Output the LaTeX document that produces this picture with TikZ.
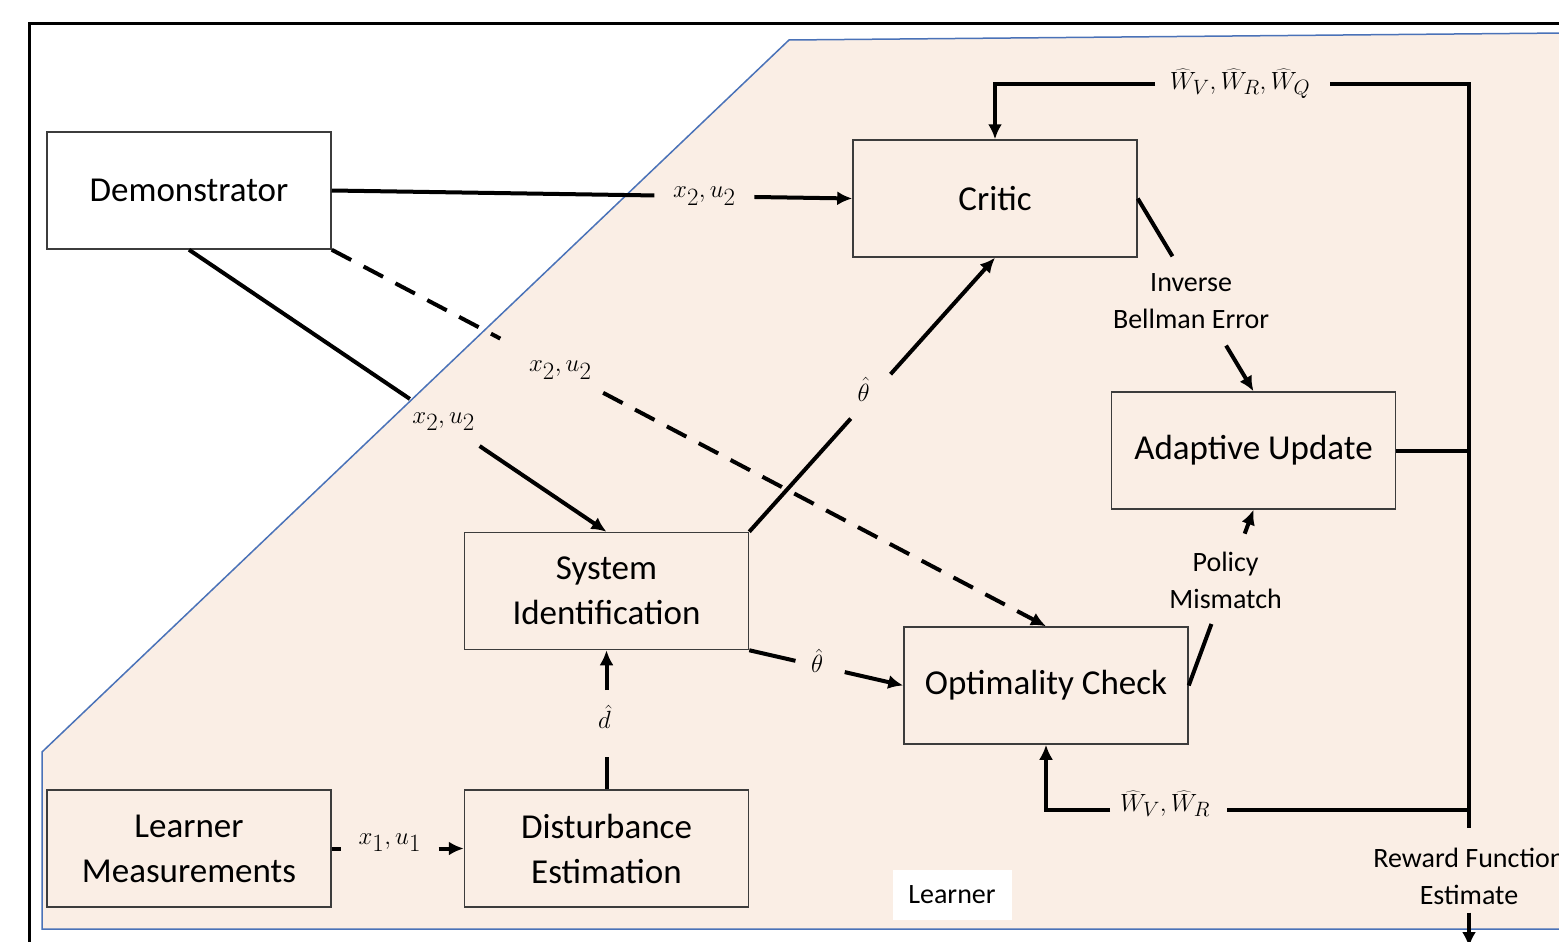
\documentclass[tikz,border=0pt]{standalone}
\usepackage{fontspec}
\setmainfont{Carlito}
\usetikzlibrary{arrows.meta}
\definecolor{regionfill}{HTML}{FAEEE5}
\definecolor{regionline}{HTML}{4A72B8}
\definecolor{boxline}{HTML}{3C3C3C}
\tikzset{
 blk/.style={draw=boxline, line width=1.5pt, minimum width=284pt, minimum height=117pt, align=center, font=\fontsize{35}{45}\selectfont, inner sep=0pt},
 conn/.style={line width=4pt, black},
 arr/.style={conn, -{Latex[length=15pt,width=14pt]}},
 dashconn/.style={conn, dash pattern=on 22pt off 14pt},
 lbl/.style={font=\fontsize{28}{37}\selectfont, align=center, inner sep=0pt},
 mlbl/.style={font=\fontsize{35}{40}\selectfont, inner sep=0pt},
}
\begin{document}
\begin{tikzpicture}[x=1pt,y=-1pt]
\clip (0,0) rectangle (1559,942);
\fill[white] (0,0) rectangle (1559,942);
% outer frame
\draw[line width=3pt] (29,948) -- (29,24) -- (1565,24);
% learner region
\filldraw[fill=regionfill, draw=regionline, line width=1.5pt] (1565,33) -- (789,40) -- (42,752) -- (42,929) -- (1565,929);
\node[fill=white, minimum width=119pt, minimum height=50pt, lbl] (learner) at (952,895) {Learner};

% blocks
\node[blk, fill=white] (demo) at (189,190.5) {Demonstrator};
\node[blk] (critic) at (995,198.5) {Critic};
\node[blk] (adapt) at (1253.5,450.5) {Adaptive Update};
\node[blk] (sysid) at (606.5,591) {System\\Identification};
\node[blk] (opt) at (1046,685.5) {Optimality Check};
\node[blk] (lm) at (189,848.5) {Learner\\Measurements};
\node[blk] (dist) at (606.5,848.5) {Disturbance\\Estimation};

% Demonstrator -> Critic
\path (demo.east) -- (critic.west) coordinate[pos=0.62] (a1) coordinate[pos=0.812] (a2) coordinate[pos=0.716] (a3);
\draw[conn] (demo.east) -- (a1);
\draw[arr] (a2) -- (critic.west);
\node[mlbl] (la) at (a3) {$x_2,u_2$};

% Demonstrator -> System Identification
\path (demo.south) -- (sysid.north) coordinate[pos=0.529] (b1) coordinate[pos=0.696] (b2) coordinate[pos=0.61] (b3);
\draw[conn] (demo.south) -- (b1);
\draw[arr] (b2) -- (sysid.north);
\node[mlbl] (lb) at (b3) {$x_2,u_2$};

% Demonstrator -> Optimality Check (dashed)
\path (demo.south east) -- (opt.north) coordinate[pos=0.236] (c1) coordinate[pos=0.380] (c2) coordinate[pos=0.32] (c3);
\draw[dashconn] (demo.south east) -- (c1);
\draw[dashconn, -{Latex[length=15pt,width=14pt]}] (c2) -- (opt.north);
\node[mlbl] (lc) at (c3) {$x_2,u_2$};

% System Identification -> Critic
\path (sysid.north east) -- (critic.south) coordinate[pos=0.413] (d1) coordinate[pos=0.575] (d2) coordinate[pos=0.49] (d3);
\draw[conn] (sysid.north east) -- (d1);
\draw[arr] (d2) -- (critic.south);
\node[mlbl, xshift=-6pt, yshift=8pt] (ld) at (d3) {$\hat{\theta}$};

% System Identification -> Optimality Check
\path (sysid.south east) -- (opt.west) coordinate[pos=0.30] (e1) coordinate[pos=0.62] (e2) coordinate[pos=0.44] (e3);
\draw[conn] (sysid.south east) -- (e1);
\draw[arr] (e2) -- (opt.west);
\node[mlbl, yshift=5pt] (le) at (e3) {$\hat{\theta}$};

% Disturbance Estimation -> System Identification
\path (dist.north) -- (sysid.south) coordinate[pos=0.229] (f1) coordinate[pos=0.714] (f2) coordinate[pos=0.52] (f3);
\draw[conn] (dist.north) -- (f1);
\draw[arr] (f2) -- (sysid.south);
\node[mlbl, xshift=-2pt] (lf) at (f3) {$\hat{d}$};

% Learner Measurements -> Disturbance Estimation
\path (lm.east) -- (dist.west) coordinate[pos=0.067] (g1) coordinate[pos=0.81] (g2) coordinate[pos=0.44] (g3);
\draw[conn] (lm.east) -- (g1);
\draw[arr] (g2) -- (dist.west);
\node[mlbl, yshift=6pt] (lg) at (g3) {$x_1,u_1$};

% Critic -> Adaptive Update
\path (critic.east) -- (adapt.north) coordinate[pos=0.30] (h1) coordinate[pos=0.763] (h2) coordinate[pos=0.53] (h3);
\draw[conn] (critic.east) -- (h1);
\draw[arr] (h2) -- (adapt.north);
\node[lbl, xshift=-8pt] (lh) at (h3) {Inverse\\Bellman Error};

% Optimality Check -> Adaptive Update
\path (opt.east) -- (adapt.south) coordinate[pos=0.35] (i1) coordinate[pos=0.864] (i2) coordinate[pos=0.60] (i3);
\draw[conn] (opt.east) -- (i1);
\draw[arr] (i2) -- (adapt.south);
\node[lbl, xshift=-2pt] (li) at (i3) {Policy\\Mismatch};

% bus
\coordinate (bustop) at (1469,84);
\coordinate (busbot) at (1469,828);
\coordinate (t1) at (1330,84);
\coordinate (t2) at (1155,84);
\coordinate (w1) at (1469,810);
\coordinate (w2) at (1227,810);
\coordinate (w3) at (1110,810);
\draw[conn] (t1) -- (bustop) -- (busbot);
\draw[arr] (t2) -| (critic.north);
\node[mlbl, font=\fontsize{32}{38}\selectfont] (lt) at (1240,84) {$\widehat{W}_V,\widehat{W}_R,\widehat{W}_Q$};
\draw[conn] (adapt.east) -- (adapt.east -| bustop);
\draw[conn] (w1) -- (w2);
\draw[arr] (w3) -| (opt.south);
\node[mlbl, font=\fontsize{32}{38}\selectfont] (lw) at (1165,804) {$\widehat{W}_V,\widehat{W}_R$};

% reward function estimate output
\node[lbl] (rfe) at (1469,876) {Reward Function\\Estimate};
\coordinate (rfeout) at (1469,947);
\draw[arr, shorten <=8pt] (rfe.south) -- (rfeout);
\end{tikzpicture}
\end{document}
